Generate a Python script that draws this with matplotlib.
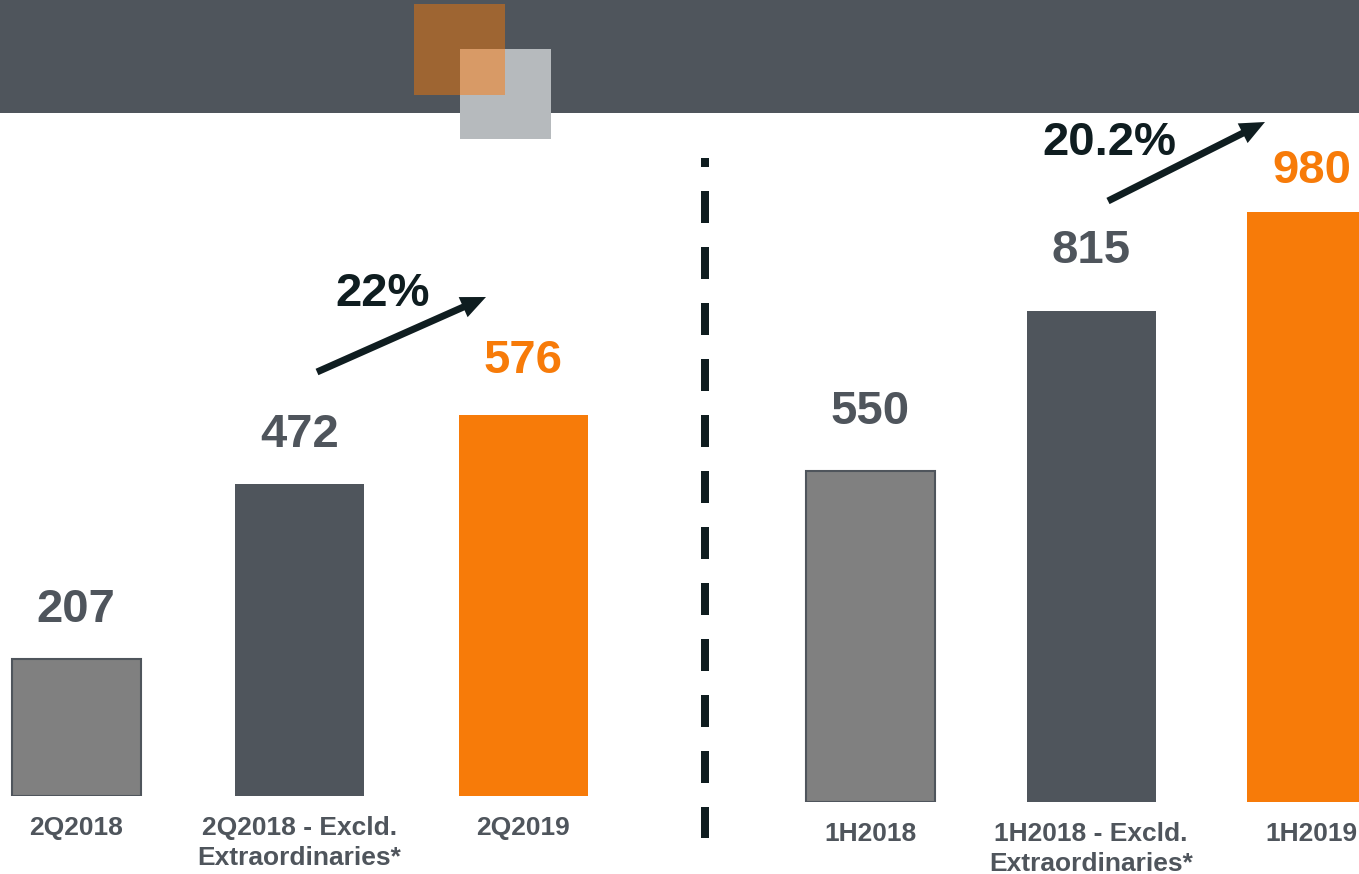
import matplotlib
matplotlib.use('Agg')
import matplotlib.pyplot as plt
from matplotlib.patches import Rectangle, FancyArrow

plt.rcParams['font.family'] = ['Liberation Sans', 'DejaVu Sans']
plt.rcParams['font.weight'] = 'bold'
plt.rcParams['lines.scale_dashes'] = False

# data
quarter_labels = ['2Q2018', '2Q2018 - Excld.\nExtraordinaries*', '2Q2019']
quarter_values = [207, 472, 576]
half_labels = ['1H2018', '1H2018 - Excld.\nExtraordinaries*', '1H2019']
half_values = [550, 815, 980]
quarter_growth = '22%'
half_growth = '20.2%'

# canvas in pixels
W, H = 1359, 874
DPI = 100
HEADER = 113

light_grey = '#808080'
dark_grey = '#4f555c'
orange = '#f77b09'
ink = '#0f1d20'
bar_colors = [light_grey, dark_grey, orange]
edge_colors = [dark_grey, 'none', 'none']
value_colors = [dark_grey, dark_grey, orange]

fig = plt.figure(figsize=(W / DPI, H / DPI), dpi=DPI)


def px_axes(x0, x1, y_bottom, y_top, **kw):
    return fig.add_axes([x0 / W, 1 - y_bottom / H, (x1 - x0) / W, (y_bottom - y_top) / H], **kw)


def bar_panel(x0, x1, base, centre0, step, scale, values, labels, gaps):
    ax = px_axes(x0, x1, base, HEADER)
    ax.set_xlim((x0 - centre0) / step, (x1 - centre0) / step)
    ax.set_ylim(0, (base - HEADER) / scale)
    ax.axis('off')
    xs = list(range(len(values)))
    ax.bar(xs, values, width=129 / step, color=bar_colors,
           edgecolor=edge_colors, linewidth=1.5)
    for i, v in enumerate(values):
        ax.annotate(str(v), (i, v), xytext=(0, gaps[i]), textcoords='offset pixels',
                    ha='center', va='baseline', fontsize=34,
                    color=value_colors[i], annotation_clip=False)
        ax.annotate(labels[i], (i, 0), xytext=(0, -20), textcoords='offset pixels',
                    ha='center', va='top', fontsize=19, color=dark_grey,
                    linespacing=1.3, annotation_clip=False)
    return ax


# two panels with their own scales
ax_q = bar_panel(0, 680, 796, 76, 223.5, 0.6612, quarter_values, quarter_labels, [37, 37, 42])
ax_h = bar_panel(720, W, 802.3, 870.5, 220.5, 0.6023, half_values, half_labels, [47, 48, 29])

# decoration layer in pixel units
deco = fig.add_axes([0, 0, 1, 1], zorder=5)
deco.set_xlim(0, W)
deco.set_ylim(H, 0)
deco.axis('off')
deco.patch.set_alpha(0)

deco.add_patch(Rectangle((0, 0), W, HEADER, color=dark_grey, lw=0))
deco.add_patch(Rectangle((414, 4), 91, 91, color='#9e6532', lw=0))
deco.add_patch(Rectangle((460, 49), 91, 90, color='#b6babd', lw=0))
deco.add_patch(Rectangle((460, 49), 45, 46, color='#d89a66', lw=0))

# dashed separator
deco.plot([705, 705], [158, 838], color=ink, lw=8 * 0.72,
          linestyle=(16.56, (23.04, 17.28)), dash_capstyle='butt')

# growth arrows
deco.add_patch(FancyArrow(317, 372, 486 - 317, 297 - 372, width=7, head_width=22,
                          head_length=25, length_includes_head=True, color=ink, lw=0))
deco.add_patch(FancyArrow(1108, 201, 1265 - 1108, 122 - 201, width=7, head_width=22,
                          head_length=25, length_includes_head=True, color=ink, lw=0))
deco.text(383, 306, quarter_growth, ha='center', va='baseline', fontsize=34, color=ink)
deco.text(1109, 155, half_growth, ha='center', va='baseline', fontsize=34, color=ink)

fig.savefig('out.png', dpi=DPI)
